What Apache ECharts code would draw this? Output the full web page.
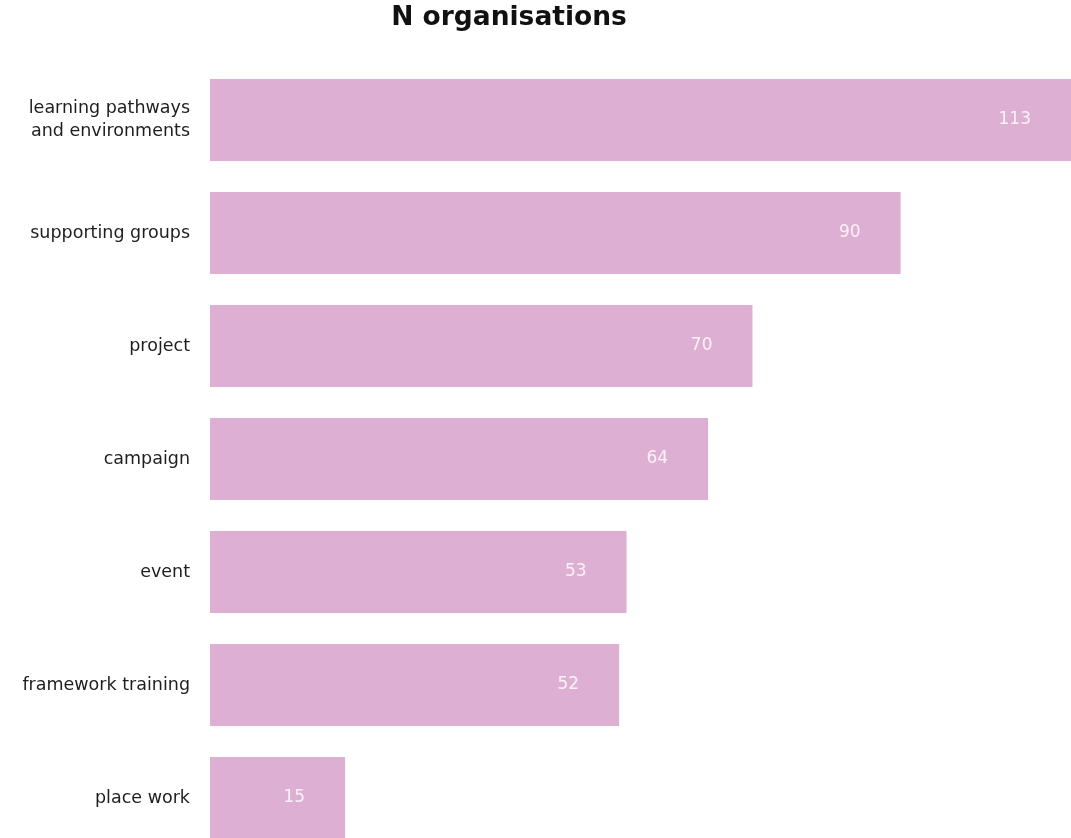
<!DOCTYPE html>
<html>
<head>
<meta charset="utf-8">
<script src="https://cdn.jsdelivr.net/npm/echarts@6/dist/echarts.min.js"></script>
<style>
  html, body { margin: 0; padding: 0; background: #fff; }
  #chart { width: 1071px; height: 838px; }
</style>
</head>
<body>
<div id="chart"></div>
<script>
const categories = [
  "learning pathways\nand environments",
  "supporting groups",
  "project",
  "campaign",
  "event",
  "framework training",
  "place work"
];
const counts = [113, 90, 70, 64, 53, 52, 15];

// bars start a little left of zero in the original
const inset = 3.24;
const insetData = categories.map(() => inset);

let chart = echarts.init(document.getElementById("chart"));
let option = {
  title: {
    text: "N organisations",
    left: 504,
    top: 0,
    textAlign: "center",
    textStyle: {
      fontFamily: "DejaVu Sans",
      fontSize: 26.5,
      fontWeight: "bold",
      color: "#111"
    }
  },
  grid: {
    left: 210,
    right: 0,
    top: 63.5,
    height: 791,
    outerBoundsMode: "none"
  },
  xAxis: {
    type: "value",
    min: 0,
    max: 113 + inset,
    show: false
  },
  yAxis: {
    type: "category",
    inverse: true,
    data: categories,
    axisLine: { show: false },
    axisTick: { show: false },
    axisLabel: {
      margin: 20,
      fontFamily: "DejaVu Sans",
      fontSize: 17.5,
      lineHeight: 23,
      color: "#1e1e1e",
      align: "right"
    }
  },
  series: [
    {
      type: "bar",
      stack: "n",
      data: insetData,
      barWidth: 82,
      itemStyle: { color: "#ddb0d3" },
      silent: true
    },
    {
      type: "bar",
      stack: "n",
      data: counts,
      barWidth: 82,
      itemStyle: { color: "#ddb0d3" },
      label: {
        show: true,
        position: "insideRight",
        distance: 40,
        fontFamily: "DejaVu Sans",
        fontSize: 17,
        color: "#fbf2f8"
      }
    }
  ]
};
chart.setOption(option);
</script>
</body>
</html>
